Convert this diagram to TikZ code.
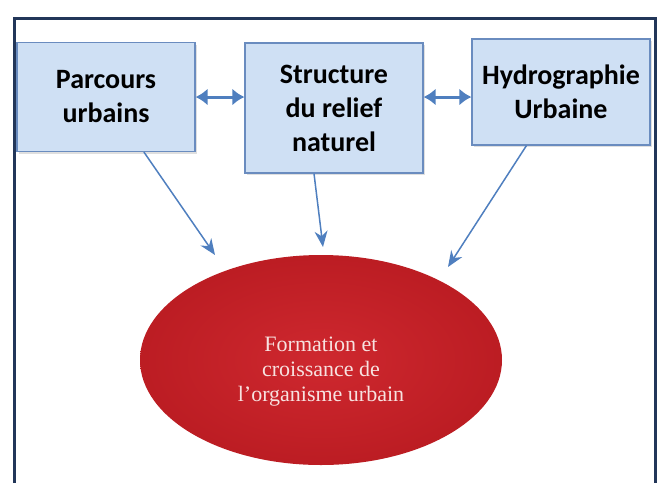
\documentclass[tikz,border=0pt]{standalone}
\usepackage{fontspec}
\setmainfont{Carlito}
\newfontfamily\ovalfont{Liberation Serif}
\usetikzlibrary{arrows.meta,shapes.geometric,shadows}
\definecolor{boxfill}{HTML}{CFE0F4}
\definecolor{boxline}{HTML}{6A8CBF}
\definecolor{arrowblue}{HTML}{4F7FBF}
\definecolor{framenavy}{HTML}{223659}
\definecolor{ovalred}{HTML}{CC1F26}
\definecolor{ovaltext}{HTML}{F7E2E0}

\begin{document}
\begin{tikzpicture}[x=1pt,y=-1pt,
    block/.style={draw=boxline,line width=1.2pt,fill=boxfill,align=center,
      inner sep=0pt,minimum width=178pt,
      font=\fontsize{28}{34}\selectfont\bfseries,
      drop shadow={opacity=0.25,shadow xshift=2pt,shadow yshift=-2pt}},
    link/.style={draw=arrowblue,line width=1.5pt,-{Stealth[length=16pt,width=13pt]}},
    twoway/.style={draw=arrowblue,line width=3pt,{Latex[length=12pt,width=17pt]}-{Latex[length=12pt,width=17pt]}}]
  \useasboundingbox (0,0) rectangle (659,483);
  % frame
  \draw[framenavy,line width=3pt] (14,483) -- (14,18) -- (655,18) -- (655,483);

  \node[block,minimum height=109pt] (pu) at (106,97) {Parcours\\urbains};
  \node[block,minimum height=130pt] (sr) at (334,108) {Structure\\du relief\\naturel};
  \node[block,minimum height=106pt] (hu) at (561,92) {Hydrographie\\Urbaine};

  \node[ellipse,minimum width=362pt,minimum height=210pt,inner sep=0pt,
        inner color=ovalred!96!white,outer color=ovalred!92!black] (org) at (321,360) {};
  \node[text=ovaltext,align=center,font=\ovalfont\fontsize{22}{25}\selectfont]
        (orgtext) at (321,372) {Formation et\\croissance de\\l’organisme urbain};

  \coordinate (t1) at (215,255);
  \coordinate (t2) at (323,247);
  \coordinate (t3) at (448,267);

  \path
    (pu.east) edge[twoway] (pu.east -| sr.west)
    (sr.east |- pu) edge[twoway] (hu.west |- pu);
  \draw[link] (pu) -- (t1);
  \draw[link] ([xshift=-20pt]sr.south) -- (t2);
  \draw[link] (hu) -- (t3);
\end{tikzpicture}
\end{document}
